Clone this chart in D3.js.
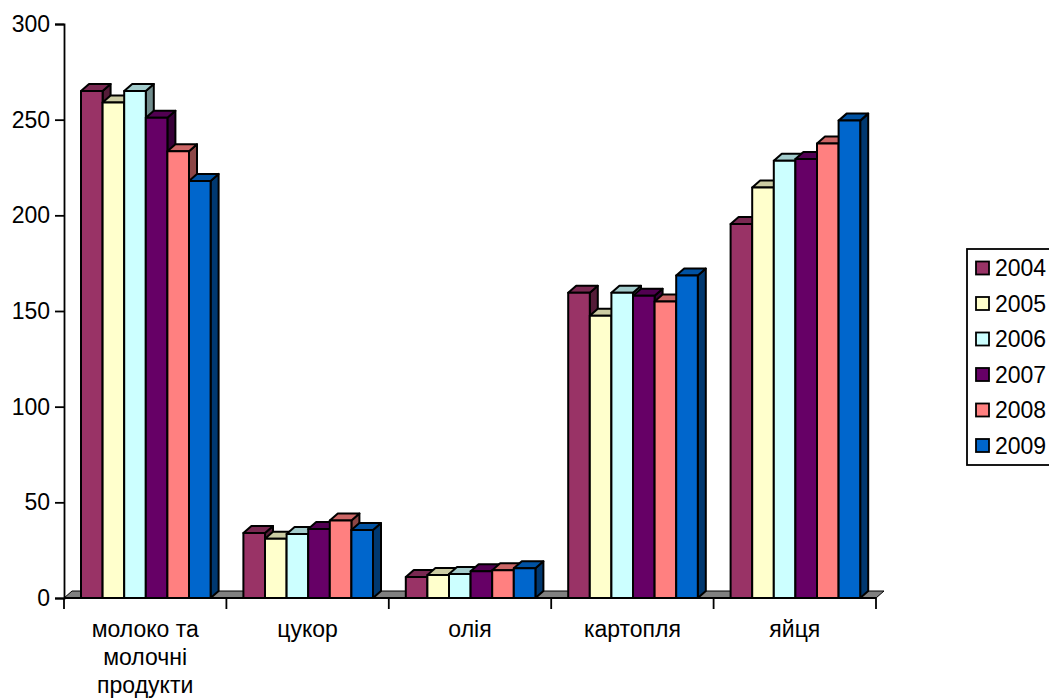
<!DOCTYPE html>
<html>
<head>
<meta charset="utf-8">
<script src="https://cdn.jsdelivr.net/npm/d3@7"></script>
<style>
  body { margin: 0; background: #fff; }
  svg text { font-family: Arial, "Liberation Sans", sans-serif; fill: #000; }
</style>
</head>
<body>
<svg width="1049" height="700"></svg>
<script>
// дані з діаграми
const categories = [["молоко та", "молочні", "продукти"], ["цукор"], ["олія"], ["картопля"], ["яйця"]];
const years = ["2004", "2005", "2006", "2007", "2008", "2009"];
const v2004 = [265, 34, 11, 159.5, 195.5];
const v2005 = [259, 31, 12, 147.5, 214.5];
const v2006 = [265, 33.5, 12.5, 159.5, 228.5];
const v2007 = [251, 36, 14, 158, 229.5];
const v2008 = [233.5, 40.5, 14.5, 155, 237.5];
const v2009 = [218, 35.5, 15.5, 168.5, 249.5];
const series = [v2004, v2005, v2006, v2007, v2008, v2009];
const yTicks = [0, 50, 100, 150, 200, 250, 300];
const colors = ["#993366", "#FFFFCC", "#CCFFFF", "#660066", "#FF8080", "#0066CC"];

const svg = d3.select("svg");
const dx = 8, dy = -7; // 3d глибина
const fs = "23px";

let x0 = d3.scaleBand().domain(d3.range(categories.length)).range([64, 876]);
let x1 = d3.scaleBand().domain(years).range([17, 17 + 6 * 21.6]);
let y = d3.scaleLinear().domain([0, 300]).range([598, 24]);

function shade(c, k) {
  let col = d3.rgb(c);
  return d3.rgb(col.r * k, col.g * k, col.b * k).toString();
}

// підлога
svg.append("polygon")
  .attr("points", [[64, y(0)], [876, y(0)], [876 + dx, y(0) + dy], [64 + dx, y(0) + dy]].join(" "))
  .attr("fill", "#808080")
  .attr("stroke", "#000")
  .attr("stroke-width", 1);

// стовпчики
categories.forEach((cat, ci) => {
  years.forEach((yr, si) => {
    let v = series[si][ci];
    let x = x0(ci) + x1(yr);
    let w = x1.bandwidth();
    let yt = y(v), yb = y(0);
    let g = svg.append("g")
      .attr("stroke", "#000")
      .attr("stroke-width", 2)
      .attr("stroke-linejoin", "round");
    g.append("polygon")
      .attr("points", [[x + w, yt], [x + w + dx, yt + dy], [x + w + dx, yb + dy], [x + w, yb]].join(" "))
      .attr("fill", shade(colors[si], 0.55));
    g.append("polygon")
      .attr("points", [[x, yt], [x + dx, yt + dy], [x + w + dx, yt + dy], [x + w, yt]].join(" "))
      .attr("fill", shade(colors[si], 0.8));
    g.append("rect")
      .attr("x", x).attr("y", yt)
      .attr("width", w).attr("height", yb - yt)
      .attr("fill", colors[si]);
  });
});

// вісь Y
let yAxis = d3.axisLeft(y).tickValues(yTicks).tickSize(9).tickPadding(5);
let gy = svg.append("g").attr("transform", "translate(64,0)").call(yAxis);
gy.select(".domain").attr("stroke-width", 1.8);
gy.selectAll(".tick line").attr("stroke-width", 1.8);
gy.selectAll("text").style("font-size", fs).attr("font-family", null);

// вісь X
svg.append("line")
  .attr("x1", 64).attr("x2", 876)
  .attr("y1", y(0)).attr("y2", y(0))
  .attr("stroke", "#000").attr("stroke-width", 1.8);
svg.selectAll(".xtick")
  .data(d3.range(categories.length + 1))
  .enter().append("line")
  .attr("x1", d => 64 + d * x0.bandwidth())
  .attr("x2", d => 64 + d * x0.bandwidth())
  .attr("y1", y(0)).attr("y2", y(0) + 11)
  .attr("stroke", "#000").attr("stroke-width", 1.8);

// підписи категорій
categories.forEach((cat, ci) => {
  let t = svg.append("text")
    .attr("text-anchor", "middle")
    .style("font-size", fs);
  cat.forEach((line, li) => {
    t.append("tspan")
      .attr("x", x0(ci) + x0.bandwidth() / 2)
      .attr("y", 637 + li * 28)
      .text(line);
  });
});

// легенда
let leg = svg.append("g").attr("transform", "translate(967,249)");
leg.append("rect")
  .attr("width", 100).attr("height", 216)
  .attr("fill", "#fff").attr("stroke", "#000").attr("stroke-width", 1.8);
years.forEach((yr, i) => {
  let row = leg.append("g").attr("transform", "translate(0," + (19 + i * 35.5) + ")");
  row.append("rect")
    .attr("x", 9).attr("y", -6.5)
    .attr("width", 13).attr("height", 13)
    .attr("fill", colors[i]).attr("stroke", "#000").attr("stroke-width", 1.8);
  row.append("text")
    .attr("x", 28).attr("y", 8)
    .style("font-size", fs)
    .text(yr);
});
</script>
</body>
</html>
